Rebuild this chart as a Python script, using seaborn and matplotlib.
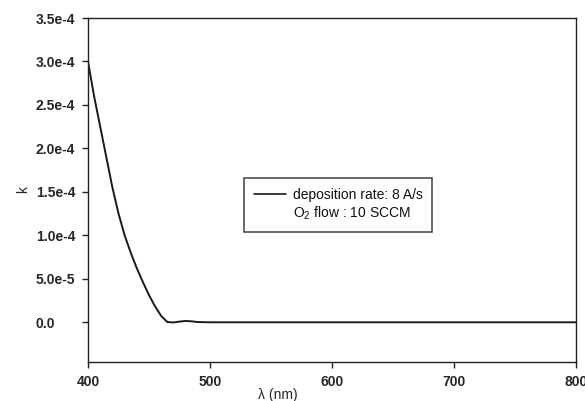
import matplotlib
matplotlib.use("Agg")
import matplotlib.pyplot as plt
import seaborn as sns
import pandas as pd
from matplotlib.lines import Line2D

# === DATA ===
wavelength = [400, 405, 410, 415, 420, 425, 430, 435, 440, 445, 450, 455, 460,
              465, 470, 475, 480, 485, 490, 500, 550, 600, 650, 700, 750, 800]
k_values = [3.0e-4, 2.6e-4, 2.25e-4, 1.9e-4, 1.55e-4, 1.25e-4, 1.0e-4, 8.0e-5,
            6.2e-5, 4.6e-5, 3.1e-5, 1.8e-5, 7e-6, 0.0, -5e-7, 5e-7, 1.2e-6,
            8e-7, 0.0, -3e-7, -3e-7, -3e-7, -3e-7, -3e-7, -3e-7, -3e-7]
x_ticks = [400, 500, 600, 700, 800]
y_ticks = [0.0, 5e-5, 1e-4, 1.5e-4, 2e-4, 2.5e-4, 3e-4, 3.5e-4]
y_tick_labels = ["0.0", "5.0e-5", "1.0e-4", "1.5e-4", "2.0e-4", "2.5e-4",
                 "3.0e-4", "3.5e-4"]

df = pd.DataFrame({"wavelength": wavelength, "k": k_values})

sns.set_style("ticks")
plt.rcParams["font.family"] = ["Liberation Sans", "DejaVu Sans"]
plt.rcParams["mathtext.fontset"] = "custom"
plt.rcParams["mathtext.rm"] = "Liberation Sans"
plt.rcParams["mathtext.it"] = "Liberation Sans:italic"

fig = plt.figure(figsize=(5.85, 4.01), dpi=100)
ax = fig.add_axes([0.1504, 0.0973, 0.8342, 0.8578])

sns.lineplot(data=df, x="wavelength", y="k", ax=ax, color="#1a1a1a",
             linewidth=1.4, legend=False)

ax.set_xlim(400, 800)
ax.set_ylim(-4.6e-5, 3.5e-4)
ax.set_xticks(x_ticks)
ax.set_xticklabels([str(t) for t in x_ticks], fontsize=10, fontweight="bold")
ax.set_yticks(y_ticks)
ax.set_yticklabels(y_tick_labels, fontsize=10, fontweight="bold",
                   ha="left")
ax.tick_params(axis="x", direction="out", length=4.5, width=1,
               color="#222222", pad=5)
# y labels are left-aligned in the original, starting near x=36px
ax.tick_params(axis="y", direction="out", length=4.5, width=1,
               color="#222222", pad=33)
for s in ax.spines.values():
    s.set_color("#222222")
    s.set_linewidth(1)

ax.set_xlabel("λ (nm)", fontsize=10)
ax.xaxis.set_label_coords(0.39, -0.075)
ax.set_ylabel("k", fontsize=10)
ax.yaxis.set_label_coords(-0.118, 0.5)

handles = [Line2D([0], [0], color="#1a1a1a", linewidth=1.2),
           Line2D([0], [0], color="none")]
labels = ["deposition rate: 8 A/s", "O$_2$ flow : 10 SCCM"]
leg = ax.legend(handles, labels, loc="center", bbox_to_anchor=(0.513, 0.456),
                fontsize=10, frameon=True, fancybox=False, handlelength=2.3,
                handletextpad=0.5, borderpad=0.7, labelspacing=0.2,
                borderaxespad=0)
leg.get_frame().set_edgecolor("#222222")
leg.get_frame().set_linewidth(1.2)
for t in leg.get_texts():
    t.set_color("#111111")

fig.savefig("out.png", dpi=100)
